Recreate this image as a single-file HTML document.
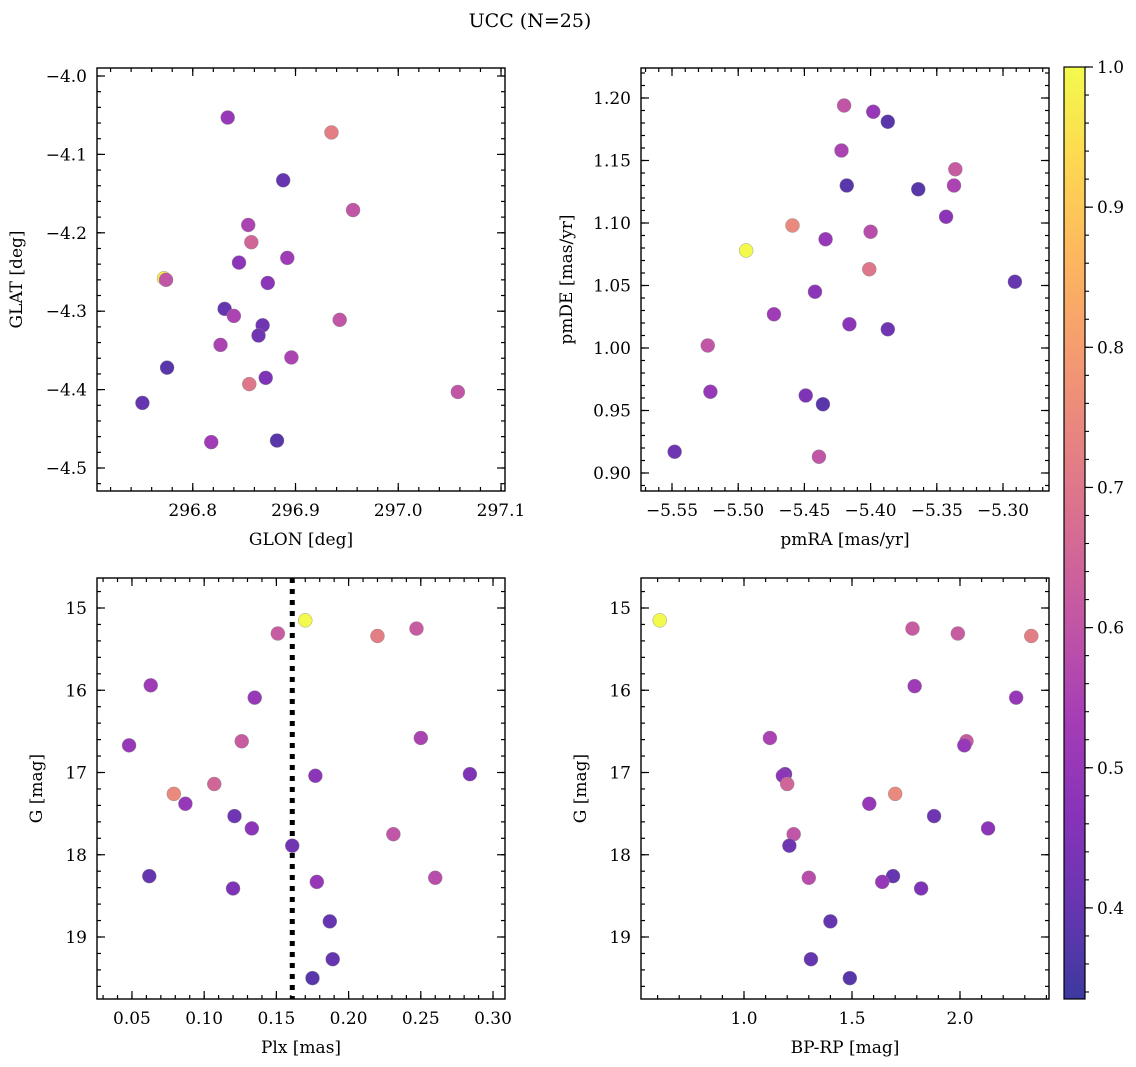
<!DOCTYPE html>
<html><head><meta charset="utf-8">
<style>
html,body{margin:0;padding:0;background:#fff;}
svg{display:block;font-family:"DejaVu Serif","Liberation Serif",serif;}
</style></head>
<body>
<svg id="fig" width="1136" height="1067" viewBox="0 0 1136 1067">
<text x="530" y="27" font-size="19" text-anchor="middle">UCC (N=25)</text>
</svg>
<script>
// ---- data ----
const glon = [296.834,296.935,296.888,296.956,296.854,296.857,296.892,296.845,296.772,296.774,296.873,296.831,296.840,296.943,296.868,296.864,296.827,296.896,296.775,296.871,296.855,297.058,296.751,296.818,296.882];
const glat = [-4.053,-4.072,-4.133,-4.171,-4.190,-4.212,-4.232,-4.238,-4.258,-4.260,-4.264,-4.297,-4.306,-4.311,-4.318,-4.331,-4.343,-4.359,-4.372,-4.385,-4.393,-4.403,-4.417,-4.467,-4.465];
const cGal = [0.5,0.72,0.4,0.6,0.55,0.65,0.52,0.48,0.97,0.6,0.48,0.4,0.55,0.6,0.42,0.42,0.55,0.55,0.38,0.45,0.7,0.6,0.4,0.52,0.38];

const pmra = [-5.420,-5.398,-5.387,-5.422,-5.336,-5.418,-5.337,-5.364,-5.343,-5.459,-5.400,-5.434,-5.494,-5.401,-5.291,-5.442,-5.473,-5.416,-5.387,-5.523,-5.521,-5.449,-5.436,-5.548,-5.439];
const pmde = [1.194,1.189,1.181,1.158,1.143,1.130,1.130,1.127,1.105,1.098,1.093,1.087,1.078,1.063,1.053,1.045,1.027,1.019,1.015,1.002,0.965,0.962,0.955,0.917,0.913];
const cPm = [0.6,0.5,0.38,0.55,0.62,0.38,0.55,0.38,0.48,0.75,0.58,0.5,1.0,0.7,0.4,0.48,0.52,0.48,0.42,0.6,0.5,0.45,0.38,0.42,0.6];

const plx = [0.170,0.151,0.220,0.247,0.063,0.135,0.048,0.126,0.250,0.284,0.107,0.079,0.087,0.177,0.121,0.133,0.231,0.161,0.062,0.260,0.178,0.120,0.187,0.189,0.175];
const gmagA = [15.15,15.31,15.34,15.25,15.94,16.09,16.67,16.62,16.58,17.02,17.14,17.26,17.38,17.04,17.53,17.68,17.75,17.89,18.26,18.28,18.33,18.41,18.81,19.27,19.50];
const cPlx = [1.0,0.62,0.72,0.62,0.52,0.5,0.5,0.62,0.55,0.45,0.65,0.75,0.5,0.48,0.42,0.48,0.6,0.42,0.4,0.58,0.5,0.45,0.4,0.4,0.38];
const plxMedian = [0.161];

const bprp = [0.61,1.78,1.99,2.33,1.79,2.26,1.12,2.03,2.02,1.19,1.18,1.20,1.70,1.58,1.88,2.13,1.23,1.21,1.30,1.69,1.64,1.82,1.40,1.31,1.49];
const gmagB = [15.15,15.25,15.31,15.34,15.95,16.09,16.58,16.62,16.67,17.02,17.04,17.14,17.26,17.38,17.53,17.68,17.75,17.89,18.28,18.26,18.33,18.41,18.81,19.27,19.50];
const cCmd = [1.0,0.62,0.62,0.72,0.52,0.5,0.55,0.62,0.5,0.45,0.48,0.65,0.75,0.5,0.42,0.48,0.6,0.42,0.58,0.4,0.5,0.45,0.4,0.4,0.38];

const cbTicks = [0.4,0.5,0.6,0.7,0.8,0.9,1.0];

// ---- helpers ----
const NS="http://www.w3.org/2000/svg";
const svg=document.getElementById('fig');
function mk(tag,attrs,parent){const e=document.createElementNS(NS,tag);for(const k in attrs)e.setAttribute(k,attrs[k]);(parent||svg).appendChild(e);return e;}
const ALPHA=0.8;
const stops=[[13,8,135],[65,4,157],[106,0,168],[143,13,164],[177,42,144],[204,71,120],[225,100,98],[242,132,75],[252,166,54],[252,206,37],[240,249,33]].map(s=>s.map(c=>Math.round(c*ALPHA+255*(1-ALPHA))));
const CMIN=0.335,CMAX=1.0;
function plasma(v){let t=(v-CMIN)/(CMAX-CMIN);t=Math.max(0,Math.min(1,t))*10;const i=Math.min(9,Math.floor(t)),f=t-i;const a=stops[i],b=stops[i+1];return `rgb(${Math.round(a[0]+(b[0]-a[0])*f)},${Math.round(a[1]+(b[1]-a[1])*f)},${Math.round(a[2]+(b[2]-a[2])*f)})`;}
function fmt(v,d){const s=Math.abs(v).toFixed(d);return (v<-1e-9?'\u2212':'')+s;}

function panel(o){
  const {x0,x1,y0,y1,xmin,xmax,ymin,ymax,name}=o;
  const g=mk('g',{});
  
  
  const sx=v=>x0+(v-xmin)/(xmax-xmin)*(x1-x0);
  const sy=o.invert?(v=>y0+(v-ymin)/(ymax-ymin)*(y1-y0)):(v=>y1-(v-ymin)/(ymax-ymin)*(y1-y0));
  const ticks=(lo,hi,step)=>{const r=[];const s=Math.ceil(lo/step-1e-6);for(let k=s;k*step<=hi+1e-9;k++)r.push(k*step);return r;};
  const tg=mk('g',{stroke:'#000','stroke-width':1.2},g);
  
  
  ticks(xmin,xmax,o.xminor).forEach(v=>{const x=sx(v);mk('line',{x1:x,y1:y1,x2:x,y2:y1-4},tg);mk('line',{x1:x,y1:y0,x2:x,y2:y0+4},tg);});
  ticks(ymin,ymax,o.yminor).forEach(v=>{const y=sy(v);mk('line',{x1:x0,y1:y,x2:x0+4,y2:y},tg);mk('line',{x1:x1,y1:y,x2:x1-4,y2:y},tg);});
  ticks(xmin,xmax,o.xmajor).forEach(v=>{const x=sx(v);mk('line',{x1:x,y1:y1,x2:x,y2:y1-8},tg);mk('line',{x1:x,y1:y0,x2:x,y2:y0+8},tg);
    const t=mk('text',{x:x,y:y1+25,'font-size':17,'text-anchor':'middle'},g);t.textContent=fmt(v,o.xdec);
    
    });
  ticks(ymin,ymax,o.ymajor).forEach(v=>{const y=sy(v);mk('line',{x1:x0,y1:y,x2:x0+8,y2:y},tg);mk('line',{x1:x1,y1:y,x2:x1-8,y2:y},tg);
    const t=mk('text',{x:x0-10,y:y+6,'font-size':17,'text-anchor':'end'},g);t.textContent=fmt(v,o.ydec);
    
    });
  const xl=mk('text',{x:(x0+x1)/2,y:y1+54,'font-size':17,'text-anchor':'middle'},g);xl.textContent=o.xlabel;
  
  
  const ylx=o.ylx;
  const yl=mk('text',{x:ylx,y:(y0+y1)/2,'font-size':17,'text-anchor':'middle',transform:`rotate(-90 ${ylx} ${(y0+y1)/2})`},g);yl.textContent=o.ylabel;
  
  
  if(o.vline!==undefined){const x=sx(o.vline);const l=mk('line',{x1:x,y1:y0,x2:x,y2:y1,stroke:'#000','stroke-width':5,'stroke-dasharray':'5 6'},g);
    
    }
  o.xs.forEach((_,i)=>{const c=mk('circle',{cx:sx(o.xs[i]),cy:sy(o.ys[i]),r:7,fill:plasma(o.cs[i]),stroke:'#888','stroke-width':0.4},g);
    
    });
  const fr=mk('rect',{x:x0,y:y0,width:x1-x0,height:y1-y0,fill:'none',stroke:'#000','stroke-width':1.4},g);
  
  
}

panel({name:'glon-glat',x0:97,x1:505,y0:68,y1:491,xmin:296.8-96/1030,xmax:297.0+107/1030,ymin:-4.0-(491-76)/784,ymax:-4.0+8/784,
  xmajor:0.1,xminor:0.02,ymajor:0.1,yminor:0.02,xdec:1,ydec:1,xlabel:'GLON [deg]',ylabel:'GLAT [deg]',ylx:22,xs:glon,ys:glat,cs:cGal});
panel({name:'pm',x0:641,x1:1049,y0:68,y1:491,xmin:-5.55-31/1324,xmax:-5.30+46/1324,ymin:0.90-18/1250,ymax:1.20+30/1250,
  xmajor:0.05,xminor:0.01,ymajor:0.05,yminor:0.01,xdec:2,ydec:2,xlabel:'pmRA [mas/yr]',ylabel:'pmDE [mas/yr]',ylx:572,xs:pmra,ys:pmde,cs:cPm});
panel({name:'plx-g',x0:97,x1:505,y0:578,y1:999,xmin:0.05-35/1446,xmax:0.30+12/1446,ymin:15-30/82.25,ymax:19+62/82.25,invert:true,
  xmajor:0.05,xminor:0.01,ymajor:1,yminor:0.2,xdec:2,ydec:0,xlabel:'Plx [mas]',ylabel:'G [mag]',ylx:42,xs:plx,ys:gmagA,cs:cPlx,vline:plxMedian[0]});
panel({name:'cmd',x0:641,x1:1049,y0:578,y1:999,xmin:1.0-103/216,xmax:2.0+89/216,ymin:15-30/82.25,ymax:19+62/82.25,invert:true,
  xmajor:0.5,xminor:0.1,ymajor:1,yminor:0.2,xdec:1,ydec:0,xlabel:'BP-RP [mag]',ylabel:'G [mag]',ylx:586,xs:bprp,ys:gmagB,cs:cCmd});

// ---- colorbar ----
(function(){
  const cx0=1064,cx1=1085,cy0=67,cy1=999;
  const cb=mk('g',{});
  
  
  const defs=mk('defs',{},cb);
  const lg=mk('linearGradient',{id:'plg',x1:0,y1:1,x2:0,y2:0},defs);
  stops.forEach((s,i)=>mk('stop',{offset:(i/10),'stop-color':`rgb(${s[0]},${s[1]},${s[2]})`},lg));
  mk('rect',{x:cx0,y:cy0,width:cx1-cx0,height:cy1-cy0,fill:'url(#plg)',stroke:'#000','stroke-width':1.2},cb);
  const sy=v=>cy1-(v-CMIN)/(CMAX-CMIN)*(cy1-cy0);
  for(let k=17;k<=50;k++){const v=k*0.02;if(v<CMIN||v>CMAX+1e-9)continue;mk('line',{x1:cx1,y1:sy(v),x2:cx1+4,y2:sy(v),stroke:'#000','stroke-width':1.1},cb);}
  cbTicks.forEach(v=>{const y=sy(v);mk('line',{x1:cx1,y1:y,x2:cx1+8,y2:y,stroke:'#000','stroke-width':1.2},cb);
    const t=mk('text',{x:cx1+12,y:y+6,'font-size':17},cb);t.textContent=v.toFixed(1);
    
    });
})();
</script>
</body></html>
